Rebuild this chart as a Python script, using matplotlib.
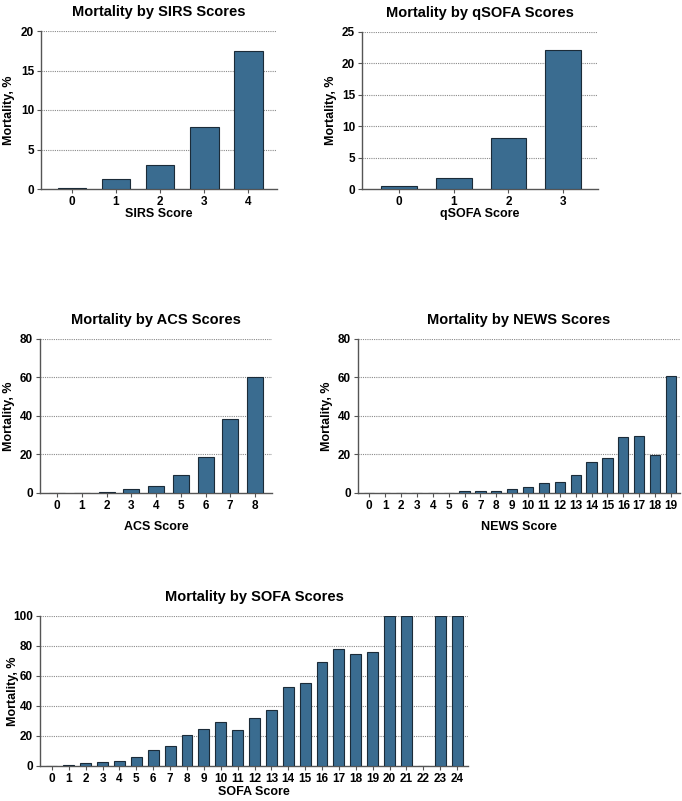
import matplotlib
matplotlib.use("Agg")
import matplotlib.pyplot as plt
import numpy as np

plt.rcParams['font.family'] = ['Liberation Sans', 'DejaVu Sans']
plt.rcParams['font.weight'] = 'bold'

# mortality (%) by score
sirs_scores = [0, 1, 2, 3, 4]
sirs_mort = [0.1, 1.3, 3.0, 7.8, 17.5]

qsofa_scores = [0, 1, 2, 3]
qsofa_mort = [0.4, 1.7, 8.2, 22.1]

acs_scores = list(range(9))
acs_mort = [0, 0, 0.6, 2.2, 3.6, 9.1, 18.8, 38.6, 60.0]

news_scores = list(range(20))
news_mort = [0, 0, 0, 0, 0.2, 0.2, 0.8, 1.2, 1.0, 2.3,
             3.3, 5.0, 5.5, 9.3, 16.3, 18.4, 29.0, 29.6, 19.8, 61.0]

sofa_scores = list(range(25))
sofa_mort = [0.2, 1.0, 1.8, 2.4, 3.3, 5.8, 10.6, 13.3, 20.6, 24.6,
             29.5, 24.2, 32.0, 37.5, 52.8, 55.2, 69.4, 78.0, 74.9, 76.2,
             100, 100, 0, 100, 100]

W, H = 682, 801
fig = plt.figure(figsize=(W / 100, H / 100), dpi=100)

bar_color = '#3a6c90'
edge_color = '#1b2b38'


def panel(box, scores, mort, name, ymax, ystep, xlim, ylab_x, xlab_y):
    # box and label positions are in figure pixels (from top-left)
    left, right, top, bottom = box
    ax = fig.add_axes([left / W, 1 - bottom / H, (right - left) / W, (bottom - top) / H])
    ax.bar(scores, mort, width=0.65, color=bar_color, edgecolor=edge_color, linewidth=0.8,
           zorder=3)
    ax.set_xlim(*xlim)
    ax.set_ylim(0, ymax)
    yt = np.arange(0, ymax + 0.1, ystep)
    ax.set_yticks(yt)
    ax.set_xticks(scores)
    ax.set_xticklabels([str(s) for s in scores], fontsize=8.5, fontweight='bold')
    ax.set_yticklabels([str(int(v)) for v in yt], fontsize=8.5, fontweight='bold')
    for v in yt[1:]:
        ax.axhline(v, color='#8a8a8a', linestyle=(0, (1, 1)), linewidth=0.8, zorder=1)
    for s in ['top', 'right']:
        ax.spines[s].set_visible(False)
    for s in ['left', 'bottom']:
        ax.spines[s].set_color('#555555')
        ax.spines[s].set_linewidth(1.0)
    ax.tick_params(axis='both', length=3, width=0.8, color='#555555', pad=2)
    ax.set_title('Mortality by %s Scores' % name, fontsize=10.5, fontweight='bold', pad=11)
    ax.set_ylabel('Mortality, %', fontsize=9, fontweight='bold')
    ax.set_xlabel('%s Score' % name, fontsize=9, fontweight='bold')
    ax.yaxis.set_label_coords((ylab_x - left) / (right - left), 0.5)
    ax.xaxis.set_label_coords(0.5, (bottom - xlab_y) / (bottom - top))
    return ax


panel((41, 277, 31, 189), sirs_scores, sirs_mort, 'SIRS', 20, 5, (-0.7, 4.65), 15, 208)
panel((362, 598, 32, 189), qsofa_scores, qsofa_mort, 'qSOFA', 25, 5, (-0.68, 3.64), 337, 208)
panel((40, 272, 339, 493), acs_scores, acs_mort, 'ACS', 80, 20, (-0.7, 8.69), 15, 521)
panel((358, 680, 339, 493), news_scores, news_mort, 'NEWS', 80, 20, (-0.71, 19.57), 333, 521)
panel((40, 468, 616, 766), sofa_scores, sofa_mort, 'SOFA', 100, 20, (-0.71, 24.65), 19, 786)

fig.savefig('out.png', dpi=100)
